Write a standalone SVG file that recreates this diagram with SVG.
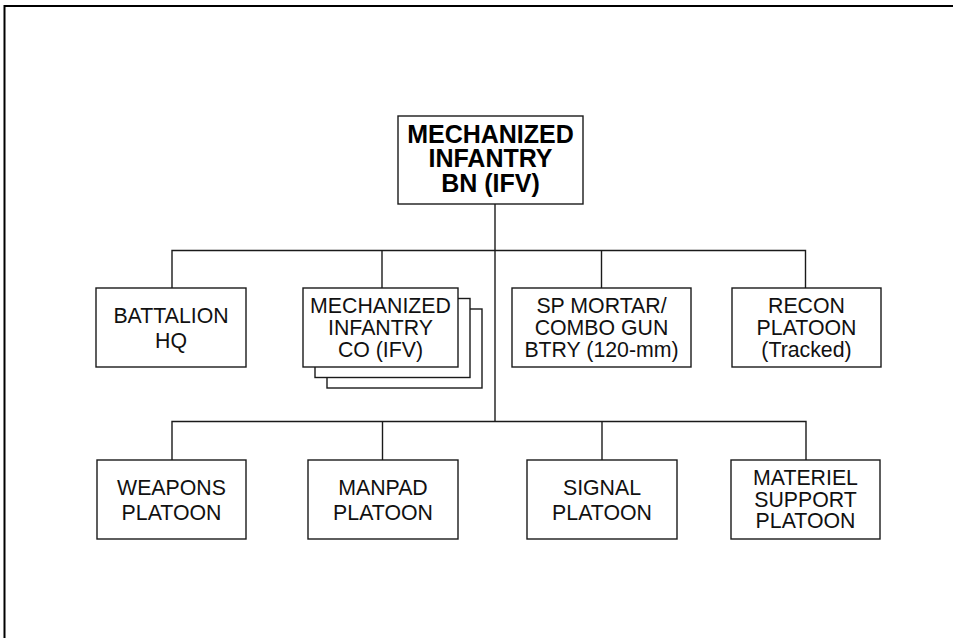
<svg xmlns="http://www.w3.org/2000/svg" width="953" height="638" viewBox="0 0 953 638">
<style>
.box{fill:#fff;stroke:#1a1a1a;stroke-width:1.4}
.ln{fill:none;stroke:#1a1a1a;stroke-width:1.4}
.t{font-family:"Liberation Sans",Arial,sans-serif;font-size:21.3px;fill:#111;text-anchor:middle}
.b{font-family:"Liberation Sans",Arial,sans-serif;font-size:25px;font-weight:bold;fill:#000;text-anchor:middle}
</style>
<rect width="953" height="638" fill="#fff"/>
<path d="M4.5 638 V6 H953" fill="none" stroke="#000" stroke-width="2"/>
<g id="connectors">
<path class="ln" d="M495 204 V422"/>
<path class="ln" d="M172 288 V250.5 H805.5 V288"/>
<path class="ln" d="M382 250.5 V288"/>
<path class="ln" d="M601.5 250.5 V288"/>
<path class="ln" d="M172 460 V421.5 H806 V460"/>
<path class="ln" d="M382.5 421.5 V460"/>
<path class="ln" d="M602 421.5 V460"/>
</g>
<g id="bn">
<rect class="box" x="398" y="116" width="185" height="88"/>
<text class="b"><tspan x="490.5" y="142.5">MECHANIZED</tspan><tspan x="490.5" y="166.5">INFANTRY</tspan><tspan x="490.5" y="191.5">BN (IFV)</tspan></text>
</g>
<g id="hq">
<rect class="box" x="96" y="288" width="150" height="79"/>
<text class="t"><tspan x="171" y="322.5">BATTALION</tspan><tspan x="171" y="347.5">HQ</tspan></text>
</g>
<g id="co">
<rect class="box" x="327" y="309" width="155" height="79"/>
<rect class="box" x="315" y="298.5" width="155" height="79"/>
<rect class="box" x="303" y="288" width="155" height="79"/>
<text class="t"><tspan x="380.5" y="312.5">MECHANIZED</tspan><tspan x="380.5" y="334.5">INFANTRY</tspan><tspan x="380.5" y="356.5">CO (IFV)</tspan></text>
</g>
<g id="mortar">
<rect class="box" x="512" y="288" width="179" height="79"/>
<text class="t"><tspan x="601.5" y="312.5">SP MORTAR/</tspan><tspan x="601.5" y="334.5">COMBO GUN</tspan><tspan x="601.5" y="356.5">BTRY (120-mm)</tspan></text>
</g>
<g id="recon">
<rect class="box" x="732" y="288" width="149" height="79"/>
<text class="t"><tspan x="806.5" y="312.5">RECON</tspan><tspan x="806.5" y="334.5">PLATOON</tspan><tspan x="806.5" y="356.5">(Tracked)</tspan></text>
</g>
<g id="weapons">
<rect class="box" x="97" y="460" width="149" height="79"/>
<text class="t"><tspan x="171.5" y="495">WEAPONS</tspan><tspan x="171.5" y="520">PLATOON</tspan></text>
</g>
<g id="manpad">
<rect class="box" x="308" y="460" width="150" height="79"/>
<text class="t"><tspan x="383" y="495">MANPAD</tspan><tspan x="383" y="520">PLATOON</tspan></text>
</g>
<g id="signal">
<rect class="box" x="527" y="460" width="150" height="79"/>
<text class="t"><tspan x="602" y="495">SIGNAL</tspan><tspan x="602" y="520">PLATOON</tspan></text>
</g>
<g id="materiel">
<rect class="box" x="731" y="460" width="149" height="79"/>
<text class="t"><tspan x="805.5" y="485">MATERIEL</tspan><tspan x="805.5" y="506.5">SUPPORT</tspan><tspan x="805.5" y="528">PLATOON</tspan></text>
</g>
</svg>
